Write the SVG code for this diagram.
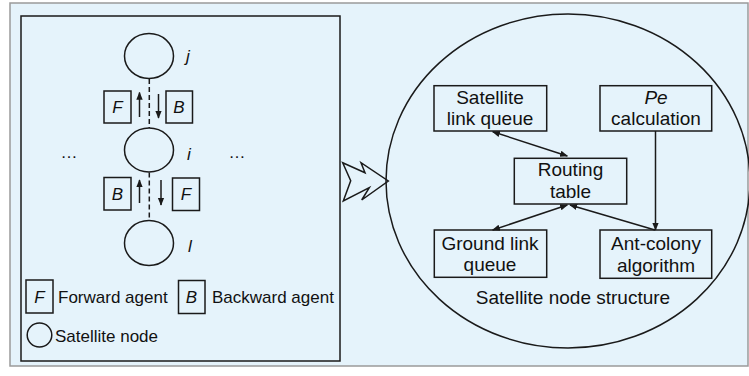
<svg xmlns="http://www.w3.org/2000/svg" width="749" height="376" viewBox="0 0 749 376">
<style>
text{font-family:"Liberation Sans",Arial,sans-serif;fill:#111}
.ln{fill:none;stroke:#1a1a1a;stroke-width:1.5}
.bx{fill:none;stroke:#1a1a1a;stroke-width:1.5}
.it{font-style:italic}
.l17{font-size:17px}
.r19{font-size:19px;text-anchor:middle}
.dash{stroke:#1a1a1a;stroke-width:1.5;stroke-dasharray:5 3;fill:none}
</style>
<defs>
<marker id="ah" viewBox="0 0 10 10" refX="9" refY="5" markerWidth="8" markerHeight="8" markerUnits="userSpaceOnUse" orient="auto-start-reverse">
<path d="M0,1 L10,5 L0,9 Z" fill="#1a1a1a"/>
</marker>
</defs>
<rect x="10" y="3" width="738" height="363" fill="#e5f3fb" stroke="#9a9a9a" stroke-width="1.5"/>
<g id="left-panel">
<rect x="21" y="16" width="319" height="345" class="bx"/>
</g>
<g id="node-j">
<ellipse cx="149" cy="56" rx="24.5" ry="22.5" class="ln"/>
<text x="186" y="62" class="l17 it">j</text>
</g>
<g id="node-i">
<ellipse cx="149" cy="150" rx="24.5" ry="22" class="ln"/>
<text x="187" y="160" class="l17 it">i</text>
</g>
<g id="node-l">
<ellipse cx="149" cy="243" rx="24.5" ry="22.5" class="ln"/>
<text x="188" y="252" class="l17 it">l</text>
</g>
<g id="dots">
<text x="69" y="158" class="l17" text-anchor="middle">…</text>
<text x="237" y="158" class="l17" text-anchor="middle">…</text>
</g>
<g id="agent-F-upper">
<rect x="104" y="91" width="27" height="32" class="bx"/>
<text x="117.5" y="113" class="l17 it" text-anchor="middle">F</text>
</g>
<g id="agent-B-upper">
<rect x="166" y="91" width="26.5" height="32" class="bx"/>
<text x="179" y="113" class="l17 it" text-anchor="middle">B</text>
</g>
<g id="agent-B-lower">
<rect x="104" y="177.5" width="27" height="32.5" class="bx"/>
<text x="117.5" y="200" class="l17 it" text-anchor="middle">B</text>
</g>
<g id="agent-F-lower">
<rect x="172.5" y="178" width="27" height="32.5" class="bx"/>
<text x="186" y="200" class="l17 it" text-anchor="middle">F</text>
</g>
<g id="legend">
<rect x="26" y="280" width="27" height="33" class="bx"/>
<text x="39.5" y="303" class="l17 it" text-anchor="middle">F</text>
<text x="58" y="303" class="l17">Forward agent</text>
<rect x="178.5" y="280.5" width="26.5" height="33" class="bx"/>
<text x="191.5" y="303" class="l17 it" text-anchor="middle">B</text>
<text x="212" y="303" class="l17">Backward agent</text>
<ellipse cx="39.5" cy="335" rx="12.3" ry="12" class="ln"/>
<text x="55" y="342" class="l17">Satellite node</text>
</g>
<g id="transition-arrow">
<path d="M342.7,162.7 L365,172.7 L361,162.7 L388.3,181 L361.7,200 L369.3,187.7 L343.3,201 L350.7,180.7 Z" class="ln"/>
</g>
<g id="satellite-node-structure">
<ellipse cx="568" cy="181" rx="182" ry="167" class="ln"/>
<text x="573" y="304" class="r19">Satellite node structure</text>
</g>
<g id="sat-link-queue">
<rect x="434" y="85.7" width="112.7" height="45.3" class="bx"/>
<text x="490" y="103.5" class="r19">Satellite</text>
<text x="490" y="125" class="r19">link queue</text>
</g>
<g id="pe-calc">
<rect x="600" y="85.7" width="111.7" height="45.3" class="bx"/>
<text x="656" y="103.5" class="r19 it">Pe</text>
<text x="656" y="125" class="r19">calculation</text>
</g>
<g id="routing-table">
<rect x="514.3" y="158.3" width="112.4" height="45.7" class="bx"/>
<text x="570.5" y="176" class="r19">Routing</text>
<text x="570.5" y="197.5" class="r19">table</text>
</g>
<g id="ground-link-queue">
<rect x="434.3" y="230" width="112.4" height="47.3" class="bx"/>
<text x="490" y="249.5" class="r19">Ground link</text>
<text x="490" y="271" class="r19">queue</text>
</g>
<g id="ant-colony">
<rect x="600" y="230" width="111.7" height="48.3" class="bx"/>
<text x="656" y="250" class="r19">Ant-colony</text>
<text x="656" y="272" class="r19">algorithm</text>
</g>
<g id="connectors">
<line x1="149.3" y1="79" x2="149.3" y2="128" class="dash"/>
<line x1="149.3" y1="172.5" x2="149.3" y2="220.5" class="dash"/>
<line x1="139.5" y1="117" x2="139.5" y2="92.5" class="ln" marker-end="url(#ah)"/>
<line x1="158.5" y1="94" x2="158.5" y2="118" class="ln" marker-end="url(#ah)"/>
<line x1="139.5" y1="203" x2="139.5" y2="180" class="ln" marker-end="url(#ah)"/>
<line x1="161" y1="180" x2="161" y2="205" class="ln" marker-end="url(#ah)"/>
<line x1="492.7" y1="131.7" x2="567.3" y2="156" class="ln" marker-start="url(#ah)" marker-end="url(#ah)"/>
<line x1="655.5" y1="131" x2="655.5" y2="230" class="ln" marker-end="url(#ah)"/>
<line x1="567.3" y1="205" x2="492.7" y2="230" class="ln" marker-start="url(#ah)" marker-end="url(#ah)"/>
<line x1="655" y1="230" x2="570" y2="205" class="ln" marker-end="url(#ah)"/>
</g>
</svg>
